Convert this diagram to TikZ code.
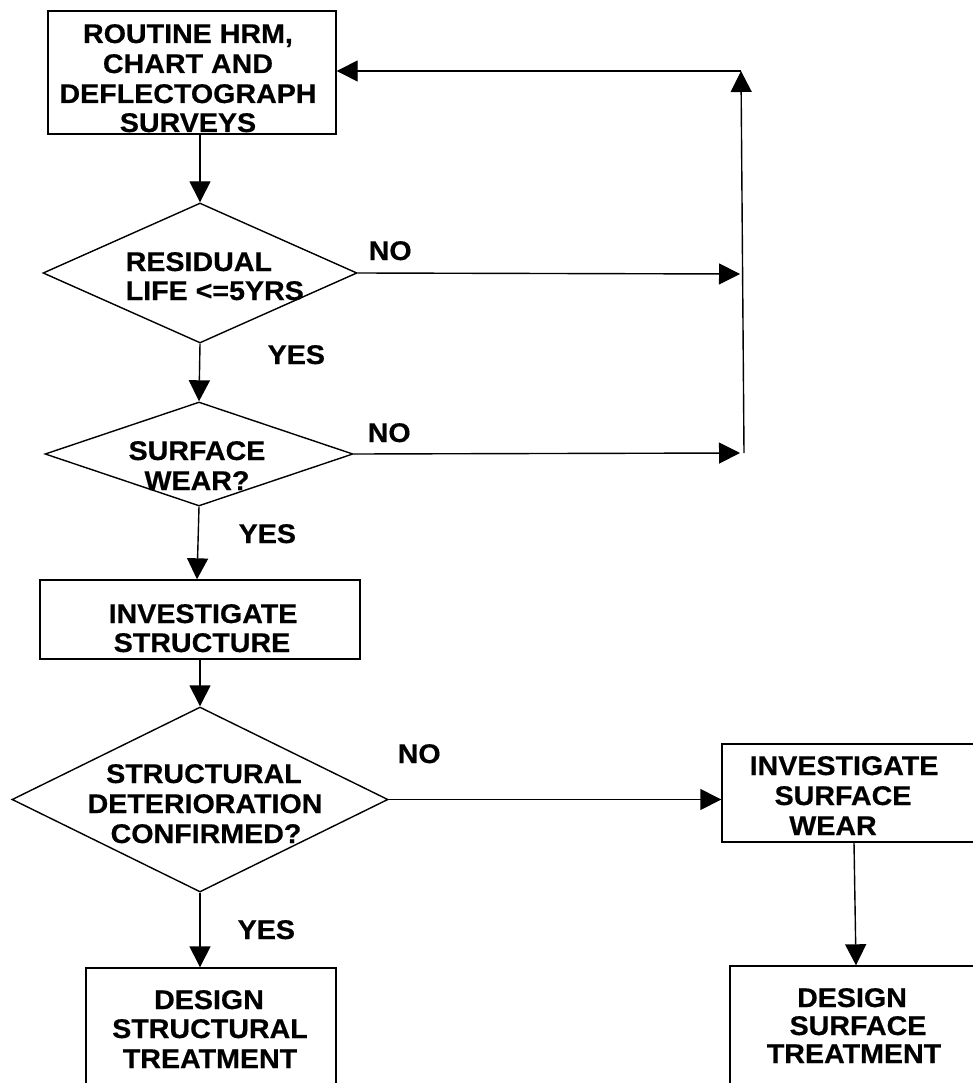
\documentclass[tikz,border=0pt]{standalone}
\usepackage{fontspec}
\newfontfamily\lab{Liberation Sans Bold}[FakeStretch=1.06,FakeBold=0.5]
\usetikzlibrary{shapes.geometric,arrows.meta}
\begin{document}
\begin{tikzpicture}[x=1pt,y=-1pt,
  line width=1.4pt,
  box/.style={draw,rectangle,inner sep=0pt,minimum width=#1},
  dia/.style={draw,diamond,inner sep=0pt},
  lbl/.style={font=\lab\fontsize{27}{29}\selectfont,inner sep=0pt,anchor=base},
  tag/.style={font=\lab\fontsize{27}{29}\selectfont,inner sep=0pt,anchor=base west},
  arr/.style={-{Triangle[length=21pt,width=21pt]}}]
\clip (0,0) rectangle (973,1083);
\fill[white] (0,0) rectangle (973,1083);
% shapes
\node[box=288pt,minimum height=123pt] (box1) at (192,72.5) {};
\node[dia,minimum width=314pt,minimum height=140pt] (dia1) at (200,273) {};
\node[dia,minimum width=308pt,minimum height=104pt] (dia2) at (199,454) {};
\node[box=320pt,minimum height=79pt] (box3) at (200,619.5) {};
\node[dia,minimum width=376pt,minimum height=185pt] (dia3) at (200,799.5) {};
\node[box=264pt,minimum height=98pt] (box4) at (854,793) {};
\node[box=252pt,minimum height=140pt] (box5) at (856,1036) {};
\node[box=250pt,minimum height=140pt] (box6) at (211,1038) {};
\coordinate (r1) at (740,274);
\coordinate (r2) at (740,453);
\coordinate (r2b) at (744,453);
\coordinate (r0) at (741,71);
% texts
\node[lbl] (t1a) at (188,43) {ROUTINE HRM,};
\node[lbl] (t1b) at (188,73) {CHART AND};
\node[lbl] (t1c) at (188,103) {DEFLECTOGRAPH};
\node[lbl] (t1d) at (188,132) {SURVEYS};
\node[lbl,anchor=base west] (t2a) at (125,271) {RESIDUAL};
\node[lbl,anchor=base west] (t2b) at (125,300) {LIFE <=5YRS};
\node[lbl] (t3a) at (197,460) {SURFACE};
\node[lbl] (t3b) at (197,490) {WEAR?};
\node[lbl] (t4a) at (203,623) {INVESTIGATE};
\node[lbl] (t4b) at (202,652) {STRUCTURE};
\node[lbl] (t5a) at (204,783) {STRUCTURAL};
\node[lbl] (t5b) at (205,813) {DETERIORATION};
\node[lbl] (t5c) at (206,843) {CONFIRMED?};
\node[lbl] (t6a) at (844,775) {INVESTIGATE};
\node[lbl] (t6b) at (843,805) {SURFACE};
\node[lbl] (t6c) at (833,835) {WEAR};
\node[lbl] (t7a) at (852,1007) {DESIGN};
\node[lbl] (t7b) at (858,1035) {SURFACE};
\node[lbl] (t7c) at (854,1063) {TREATMENT};
\node[lbl] (t8a) at (209,1009) {DESIGN};
\node[lbl] (t8b) at (210,1038) {STRUCTURAL};
\node[lbl] (t8c) at (210,1068) {TREATMENT};
% branch labels
\node[tag] (no1) at (368,260) {NO};
\node[tag] (no2) at (367,442) {NO};
\node[tag] (no3) at (397,763) {NO};
\node[tag] (yes1) at (267,364) {YES};
\node[tag] (yes2) at (238,543) {YES};
\node[tag] (yes3) at (237,939) {YES};
% connectors
\draw[arr] (box1.south -| dia1.north) -- (dia1.north);
\draw[arr] (dia1.east) -- (r1);
\draw[arr] (dia1.south) -- (dia2.north);
\draw[arr] (dia2.east) -- (r2);
\draw[arr] (r2b) -- (r0);
\draw[arr] (r0) -- (box1.east |- r0);
\draw[arr] (dia2.south) -- ([xshift=-3pt]box3.north);
\draw[arr] (box3.south) -- (dia3.north);
\draw[arr] (dia3.east) -- (dia3.east -| box4.west);
\draw[arr] (box4.south) -- (box5.north);
\draw[arr] (dia3.south) -- (dia3.south |- box6.north);
\end{tikzpicture}
\end{document}
